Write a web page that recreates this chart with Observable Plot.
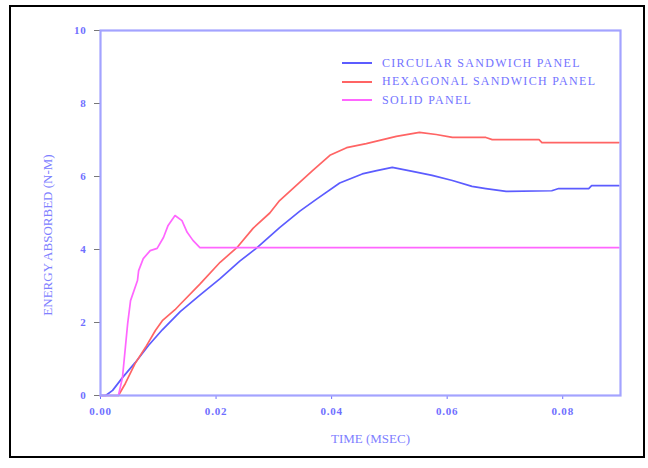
<!DOCTYPE html>
<html><head><meta charset="utf-8">
<script src="https://cdn.jsdelivr.net/npm/d3@7"></script>
<script src="https://cdn.jsdelivr.net/npm/@observablehq/plot@0.6"></script>
<style>
body{margin:0;background:#fff;}
#wrap{position:relative;width:648px;height:468px;}
#border{position:absolute;left:9px;top:5px;width:632px;height:449px;border:2px solid #000;pointer-events:none}
#legend{position:absolute;left:342px;top:54px;font-family:"Liberation Serif",serif;font-size:12px;color:#7373ff;letter-spacing:1.3px;}
.row{display:flex;align-items:center;height:18.5px;white-space:nowrap}
.sw{width:30px;height:2px;margin-right:10px}
#chart g[aria-label="x-axis tick label"] text,#chart g[aria-label="y-axis tick label"] text{letter-spacing:0.8px}
</style></head>
<body>
<div id="wrap"><div id="chart"></div><div id="legend"></div><div id="border"></div></div>
<script>
const seriesNames = ["CIRCULAR SANDWICH PANEL", "HEXAGONAL SANDWICH PANEL", "SOLID PANEL"];
const seriesColors = ["#5c5cff", "#ff6464", "#ff66ff"];
const xTicks = [0, 0.02, 0.04, 0.06, 0.08];
const yTicks = [0, 2, 4, 6, 8, 10];
const xTitle = "TIME (MSEC)";
const yTitle = "ENERGY ABSORBED (N-M)";

const circularT = [0,0.0009,0.0021,0.0038,0.006,0.0083,0.0107,0.0138,0.0172,0.0207,0.0241,0.0271,0.031,0.0345,0.0374,0.0414,0.0453,0.0478,0.0505,0.054,0.0574,0.0609,0.0643,0.0667,0.0702,0.0781,0.0793,0.0845,0.085,0.0897];
const circularE = [0,0,0.14,0.49,0.9,1.37,1.8,2.3,2.75,3.2,3.68,4.05,4.6,5.05,5.38,5.82,6.07,6.16,6.25,6.14,6.03,5.89,5.73,5.67,5.59,5.61,5.67,5.67,5.75,5.75];

const hexT = [0,0.0031,0.0043,0.006,0.0078,0.0095,0.0107,0.0129,0.0138,0.0172,0.0207,0.0236,0.0264,0.0293,0.031,0.0367,0.0397,0.0426,0.046,0.0512,0.0552,0.0581,0.0609,0.0667,0.0678,0.0759,0.0764,0.0897];
const hexE = [0,0,0.33,0.88,1.32,1.78,2.05,2.35,2.5,3.05,3.65,4.05,4.58,5.0,5.34,6.16,6.58,6.79,6.9,7.1,7.21,7.15,7.07,7.07,7.01,7.01,6.93,6.93];

const solidT = [0,0.0031,0.0038,0.0047,0.0052,0.0064,0.0066,0.0074,0.0086,0.0098,0.0109,0.0117,0.0129,0.0141,0.015,0.016,0.0172,0.0897];
const solidE = [0,0,0.49,1.97,2.6,3.15,3.42,3.75,3.97,4.03,4.33,4.66,4.93,4.79,4.47,4.25,4.05,4.05];

const toRows = (ts, es) => ts.map((t, i) => ({t, e: es[i]}));
const seriesData = [toRows(circularT, circularE), toRows(hexT, hexE), toRows(solidT, solidE)];

const ink = "#6f6fff";
const chart = Plot.plot({
  width: 648, height: 468,
  marginLeft: 100, marginRight: 28, marginTop: 30, marginBottom: 73,
  style: {fontFamily: "'Liberation Serif', serif", fontSize: "11px", color: ink, background: "transparent"},
  x: {domain: [0, 0.09]},
  y: {domain: [0, 10]},
  marks: [
    Plot.axisX({ticks: xTicks, tickFormat: d3.format(".2f"), tickSize: 4, tickPadding: 8, label: null, fontWeight: "bold", fontSize: 11}),
    Plot.axisY({ticks: yTicks, tickSize: 6, tickPadding: 8, label: null, fontWeight: "bold", fontSize: 11, stroke: "#777"}),
    ...seriesData.map((d, i) => Plot.line(d, {x: "t", y: "e", stroke: seriesColors[i], strokeWidth: 1.7})),
    Plot.frame({stroke: "#a3a3ff", strokeWidth: 2.2}),
    Plot.text([xTitle], {frameAnchor: "bottom", dx: 10, dy: 47, fontSize: 13, fill: "#8080ff", style: "letter-spacing:0.8px"}),
    Plot.text([yTitle], {frameAnchor: "left", textAnchor: "middle", dx: -53, dy: 22, rotate: -90, fontSize: 13, fill: "#8080ff", style: "letter-spacing:1.3px"})
  ]
});
document.getElementById("chart").appendChild(chart);

const legend = document.getElementById("legend");
seriesNames.forEach((name, i) => {
  const row = document.createElement("div");
  row.className = "row";
  const sw = document.createElement("span");
  sw.className = "sw";
  sw.style.background = seriesColors[i];
  const label = document.createElement("span");
  label.textContent = name;
  row.appendChild(sw); row.appendChild(label);
  legend.appendChild(row);
});
</script>
</body></html>
